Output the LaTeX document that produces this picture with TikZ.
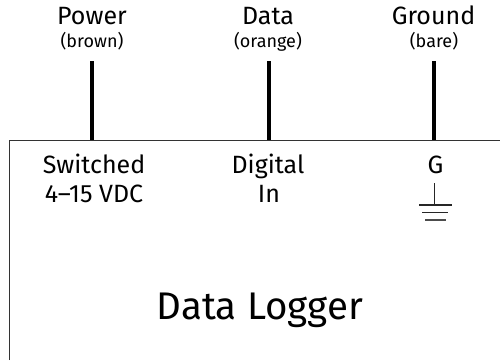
\documentclass[tikz,border=0pt]{standalone}
\usepackage{fontspec}
\setmainfont{Fira Sans}
\tikzset{
  x=1pt,y=-1pt,
  wire/.style={line width=4pt,black},
  boxline/.style={line width=1pt,draw=black!80},
  gnd/.style={line width=1.1pt,draw=black!85},
  lab/.style={inner sep=0pt,align=center,text=black,anchor=base},
  big/.style={lab,font=\fontsize{25}{28}\selectfont},
  sub/.style={lab,font=\fontsize{18}{20}\selectfont},
}
\begin{document}
\begin{tikzpicture}
\useasboundingbox (0,0) rectangle (500,360);
\fill[white] (0,0) rectangle (500,360);
\draw[boxline] (9,360) -- (9,140.5) -- (500,140.5);
\coordinate (pt) at (92,61); \coordinate (pb) at (92,140);
\coordinate (dt) at (268.5,61); \coordinate (db) at (268.5,140);
\coordinate (gt) at (434,61); \coordinate (gb) at (434,140);
\draw[wire] (pt) -- (pb);
\draw[wire] (dt) -- (db);
\draw[wire] (gt) -- (gb);
\node[big] (power) at (92,24.5) {Power};
\node[sub] (brown) at (92,47) {(brown)};
\node[big] (data) at (268,24.5) {Data};
\node[sub] (orange) at (268,47) {(orange)};
\node[big] (ground) at (433.5,24.5) {Ground};
\node[sub] (bare) at (434,47) {(bare)};
\node[big] (sw) at (94,173) {Switched};
\node[big] (vdc) at (94,202.5) {4–15 VDC};
\node[big] (dig) at (268,173) {Digital};
\node[big] (in) at (269,202.5) {In};
\node[big] (g) at (435.5,173) {G};
\draw[gnd] (434.7,183) -- (434.7,205);
\draw[gnd] (419,205) -- (452,205);
\draw[gnd] (422,212.5) -- (448,212.5);
\draw[gnd,line width=1.6pt,draw=black!70] (425,220) -- (446,220);
\node[lab,font=\fontsize{38.5}{42}\selectfont] (logger) at (260,319) {Data Logger};
\end{tikzpicture}
\end{document}
